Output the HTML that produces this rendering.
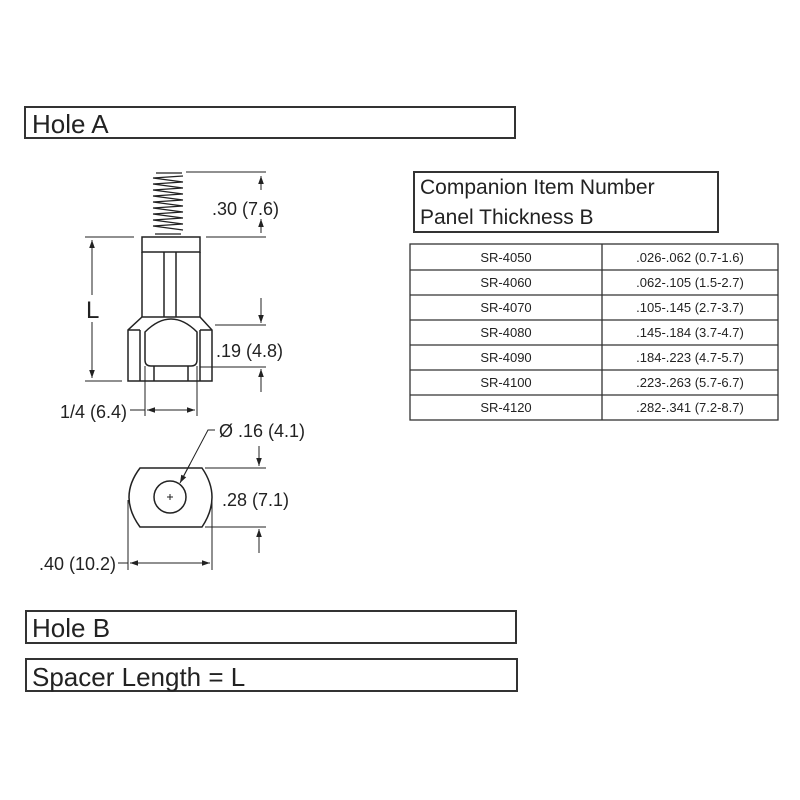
<!DOCTYPE html>
<html><head><meta charset="utf-8"><style>
html,body{margin:0;padding:0;background:#fff;}
svg{display:block;}
text{font-family:"Liberation Sans",sans-serif;fill:#222;}
</style></head><body>
<svg width="800" height="800" viewBox="0 0 800 800" xmlns="http://www.w3.org/2000/svg">
<defs>
<marker id="a" viewBox="0 0 10 10" refX="10" refY="5" markerWidth="8" markerHeight="8" orient="auto-start-reverse" markerUnits="userSpaceOnUse"><path d="M0,1.5 L10,5 L0,8.5 z" fill="#222"/></marker>
</defs>
<g fill="none" stroke="#333" stroke-width="2">
<rect x="25" y="107" width="490" height="31"/>
<rect x="26" y="611" width="490" height="32"/>
<rect x="26" y="659" width="491" height="32"/>
<rect x="414" y="172" width="304" height="60"/>
</g>
<text x="32" y="133" font-size="26">Hole A</text>
<text x="32" y="637" font-size="26">Hole B</text>
<text x="32" y="686" font-size="26">Spacer Length = L</text>
<text x="420" y="194" font-size="21">Companion Item Number</text>
<text x="420" y="224" font-size="21">Panel Thickness B</text>
<g fill="none" stroke="#333" stroke-width="1.3">
<rect x="410" y="244" width="368" height="176"/>
<line x1="602" y1="244" x2="602" y2="420"/>
<line x1="410" y1="270" x2="778" y2="270"/>
<line x1="410" y1="295" x2="778" y2="295"/>
<line x1="410" y1="320" x2="778" y2="320"/>
<line x1="410" y1="345" x2="778" y2="345"/>
<line x1="410" y1="370" x2="778" y2="370"/>
<line x1="410" y1="395" x2="778" y2="395"/>
</g>
<g font-size="13" text-anchor="middle">
<text x="506" y="262">SR-4050</text><text x="690" y="262">.026-.062 (0.7-1.6)</text>
<text x="506" y="287">SR-4060</text><text x="690" y="287">.062-.105 (1.5-2.7)</text>
<text x="506" y="312">SR-4070</text><text x="690" y="312">.105-.145 (2.7-3.7)</text>
<text x="506" y="337">SR-4080</text><text x="690" y="337">.145-.184 (3.7-4.7)</text>
<text x="506" y="362">SR-4090</text><text x="690" y="362">.184-.223 (4.7-5.7)</text>
<text x="506" y="387">SR-4100</text><text x="690" y="387">.223-.263 (5.7-6.7)</text>
<text x="506" y="412">SR-4120</text><text x="690" y="412">.282-.341 (7.2-8.7)</text>
</g>
<g fill="none" stroke="#222" stroke-width="1.5">
<!-- thread -->
<path d="M156,173 L182,173 M153,178 L183,176 M153,178 L183,182 M153,184 L183,182 M153,184 L183,188 M153,190 L183,188 M153,190 L183,194 M153,196 L183,194 M153,196 L183,200 M153,202 L183,200 M153,202 L183,206 M153,208 L183,206 M153,208 L183,212 M153,214 L183,212 M153,214 L183,218 M153,220 L183,218 M153,220 L183,224 M153,226 L183,224 M153,226 L183,230 M155,234 L181,234" stroke-width="1.3"/>
<rect x="142" y="237" width="58" height="15"/>
<line x1="142" y1="252" x2="142" y2="317"/>
<line x1="200" y1="252" x2="200" y2="317"/>
<line x1="164" y1="252" x2="164" y2="317"/>
<line x1="176" y1="252" x2="176" y2="317"/>
<path d="M142,317 L200,317 L212,330 L212,381 L128,381 L128,330 Z"/>
<path d="M128,330 L140,330 M200,330 L212,330"/>
<line x1="140" y1="330" x2="140" y2="381"/>
<line x1="200" y1="330" x2="200" y2="381"/>
<path d="M145,360 L145,332 Q171,306 197,332 L197,360 Q197,366 191,366 L151,366 Q145,366 145,360 Z"/>
<line x1="154" y1="366" x2="154" y2="381"/>
<line x1="188" y1="366" x2="188" y2="381"/>
<!-- plate -->
<path d="M140,468 L202,468 Q222,497 202,527 L140,527 Q118,497 140,468 Z"/>
<circle cx="170" cy="497" r="16"/>
</g>
<g stroke="#222" stroke-width="1">
<line x1="167" y1="497" x2="173" y2="497"/><line x1="170" y1="494" x2="170" y2="500"/>
<line x1="186" y1="172" x2="266" y2="172"/>
<line x1="206" y1="237" x2="266" y2="237"/>
<line x1="261" y1="176" x2="261" y2="190" marker-start="url(#a)"/>
<line x1="261" y1="219" x2="261" y2="233" marker-start="url(#a)"/>
<line x1="85" y1="237" x2="134" y2="237"/>
<line x1="85" y1="381" x2="122" y2="381"/>
<line x1="92" y1="240" x2="92" y2="295" marker-start="url(#a)"/>
<line x1="92" y1="322" x2="92" y2="378" marker-end="url(#a)"/>
<line x1="215" y1="325" x2="266" y2="325"/>
<line x1="200" y1="367" x2="266" y2="367"/>
<line x1="261" y1="298" x2="261" y2="323" marker-end="url(#a)"/>
<line x1="261" y1="392" x2="261" y2="369" marker-end="url(#a)"/>
<line x1="145" y1="366" x2="145" y2="416"/>
<line x1="197" y1="366" x2="197" y2="416"/>
<line x1="130" y1="410" x2="145" y2="410"/>
<line x1="147" y1="410" x2="195" y2="410" marker-start="url(#a)" marker-end="url(#a)"/>
<polyline points="215,430 208,430 181,481" fill="none"/>
<line x1="190" y1="464" x2="180" y2="483" marker-end="url(#a)"/>
<line x1="205" y1="468" x2="266" y2="468"/>
<line x1="205" y1="527" x2="266" y2="527"/>
<line x1="259" y1="446" x2="259" y2="466" marker-end="url(#a)"/>
<line x1="259" y1="553" x2="259" y2="529" marker-end="url(#a)"/>
<line x1="128" y1="500" x2="128" y2="570"/>
<line x1="212" y1="500" x2="212" y2="570"/>
<line x1="118" y1="563" x2="128" y2="563"/>
<line x1="130" y1="563" x2="210" y2="563" marker-start="url(#a)" marker-end="url(#a)"/>
</g>
<g font-size="18">
<text x="212" y="215">.30 (7.6)</text>
<text x="86" y="318" font-size="24">L</text>
<text x="216" y="357">.19 (4.8)</text>
<text x="127" y="418" text-anchor="end">1/4 (6.4)</text>
<text x="219" y="437">Ø .16 (4.1)</text>
<text x="222" y="506">.28 (7.1)</text>
<text x="116" y="570" text-anchor="end">.40 (10.2)</text>
</g>
</svg>
</body></html>
